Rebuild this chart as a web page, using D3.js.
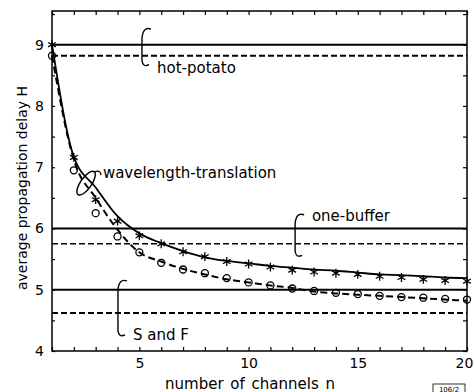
<!DOCTYPE html>
<html>
<head>
<meta charset="utf-8">
<script src="https://cdn.jsdelivr.net/npm/d3@7"></script>
<style>
  html, body { margin: 0; padding: 0; background: #fff; }
  svg { display: block; font-family: "DejaVu Sans", sans-serif; }
</style>
</head>
<body>
<svg id="chart" width="474" height="392"></svg>
<script>
// number of channels n
const channels = d3.range(1, 21);

// analytic curves
const solidCurve  = [9.00, 7.17, 6.67, 6.20, 5.92, 5.76, 5.63, 5.53, 5.47, 5.43,
                     5.39, 5.36, 5.33, 5.31, 5.28, 5.25, 5.24, 5.22, 5.20, 5.19];
const dashedCurve = [8.82, 7.12, 6.50, 5.98, 5.61, 5.46, 5.34, 5.25, 5.17, 5.12,
                     5.07, 5.03, 4.97, 4.94, 4.92, 4.90, 4.88, 4.86, 4.84, 4.82];

// simulation points
const starPoints   = [9.00, 7.16, 6.47, 6.12, 5.88, 5.75, 5.62, 5.54, 5.46, 5.42,
                      5.37, 5.32, 5.29, 5.27, 5.25, 5.22, 5.20, 5.17, 5.15, 5.14];
const circlePoints = [8.82, 6.95, 6.25, 5.87, 5.61, 5.44, 5.33, 5.27, 5.19, 5.12,
                      5.07, 5.02, 4.98, 4.95, 4.93, 4.90, 4.88, 4.87, 4.85, 4.84];

// constant levels: [solid, dashed]
const hotPotato = [9.00, 8.82];
const oneBuffer = [6.00, 5.75];
const sAndF     = [5.00, 4.62];

const xTickLabels = [5, 10, 15, 20];
const yTickLabels = [4, 5, 6, 7, 8, 9];

const plotLeft = 52, plotRight = 467, plotTop = 11, plotBottom = 351;

const svg = d3.select("#chart");

const x = d3.scaleLinear().domain([1, 20]).range([plotLeft, plotRight]);
const y = d3.scaleLinear().domain([4, 9.55]).range([plotBottom, plotTop]);

// frame
svg.append("rect")
  .attr("x", plotLeft).attr("y", plotTop)
  .attr("width", plotRight - plotLeft).attr("height", plotBottom - plotTop)
  .attr("fill", "none").attr("stroke", "#000").attr("stroke-width", 1.5);

const yMinor = d3.range(4, 9.51, 0.5);

const bottomAxis = svg.append("g")
  .attr("transform", `translate(0, ${plotBottom})`)
  .call(d3.axisBottom(x).tickValues(channels).tickSize(-4).tickPadding(7)
    .tickFormat((d) => xTickLabels.includes(d) ? d : ""));

const topAxis = svg.append("g")
  .attr("transform", `translate(0, ${plotTop})`)
  .call(d3.axisTop(x).tickValues(channels).tickSize(-4).tickFormat(""));

const leftAxis = svg.append("g")
  .attr("transform", `translate(${plotLeft}, 0)`)
  .call(d3.axisLeft(y).tickValues(yMinor).tickSize(-3).tickPadding(8)
    .tickFormat((d) => yTickLabels.includes(d) ? d : ""));

const rightAxis = svg.append("g")
  .attr("transform", `translate(${plotRight}, 0)`)
  .call(d3.axisRight(y).tickValues(yMinor).tickSize(-4).tickFormat(""));

[bottomAxis, topAxis, leftAxis, rightAxis].forEach((g) => {
  g.select(".domain").remove();
  g.selectAll("line").attr("stroke", "#000").attr("stroke-width", 1.2);
  g.selectAll("text").attr("font-size", "14px").attr("fill", "#000")
    .attr("font-family", "DejaVu Sans, sans-serif");
});

// last label sits on the window edge, nudge it in
bottomAxis.selectAll(".tick text")
  .filter((d) => d == 20)
  .attr("dx", -3);

// horizontal levels
[hotPotato, oneBuffer, sAndF].forEach((lvl, i) => {
  svg.append("line")
    .attr("x1", plotLeft).attr("x2", plotRight)
    .attr("y1", y(lvl[0])).attr("y2", y(lvl[0]))
    .attr("stroke", "#000").attr("stroke-width", 2);
  svg.append("line")
    .attr("x1", plotLeft).attr("x2", plotRight)
    .attr("y1", y(lvl[1])).attr("y2", y(lvl[1]))
    .attr("stroke", "#000").attr("stroke-width", i == 1 ? 1.5 : 2)
    .attr("stroke-dasharray", "6,3");
});

// curves
const line = d3.line()
  .x((d, i) => x(channels[i]))
  .y((d) => y(d))
  .curve(d3.curveMonotoneX);

svg.append("path")
  .attr("d", line(solidCurve))
  .attr("fill", "none").attr("stroke", "#000").attr("stroke-width", 1.8);

svg.append("path")
  .attr("d", line(dashedCurve))
  .attr("fill", "none").attr("stroke", "#000").attr("stroke-width", 2)
  .attr("stroke-dasharray", "7,4");

// markers
const star = d3.symbol().type(d3.symbolAsterisk || d3.symbolCross).size(55);

svg.append("g").selectAll("path")
  .data(starPoints)
  .enter()
  .append("path")
  .attr("transform", (d, i) => `translate(${x(channels[i])}, ${y(d)})`)
  .attr("d", star)
  .attr("fill", "none").attr("stroke", "#000").attr("stroke-width", 1.3);

svg.append("g").selectAll("circle")
  .data(circlePoints)
  .enter()
  .append("circle")
  .attr("cx", (d, i) => x(channels[i]))
  .attr("cy", (d) => y(d))
  .attr("r", 3.5)
  .attr("fill", "none").attr("stroke", "#000").attr("stroke-width", 1.3);

// annotation braces
function brace(n, v0, v1) {
  const bx = x(n), y0 = y(v0), y1 = y(v1);
  return `M${bx + 9},${y0 + 1} Q${bx + 1},${y0 - 2} ${bx},${y0 + 10}` +
         ` L${bx},${y1 - 6} Q${bx + 1},${y1 + 1} ${bx + 7},${y1 - 2}`;
}

const notes = svg.append("g")
  .attr("fill", "none").attr("stroke", "#000").attr("stroke-width", 1.4);

notes.append("path").attr("d", brace(5.12, 9.27, 8.64));
notes.append("path").attr("d", brace(12.13, 6.24, 5.53));
notes.append("path").attr("d", brace(4.02, 5.16, 4.23));

// wavelength-translation loop
const lx = x(2.56), ly = y(6.74);
notes.append("ellipse")
  .attr("cx", lx).attr("cy", ly)
  .attr("rx", 14).attr("ry", 5.5)
  .attr("transform", `rotate(-55, ${lx}, ${ly})`);
notes.append("path")
  .attr("d", `M${lx + 8},${ly - 11} Q${lx + 14},${ly - 14} ${lx + 15},${ly - 8}`);

const labels = svg.append("g")
  .attr("font-size", "15px").attr("fill", "#000");

labels.append("text").attr("x", x(5.81)).attr("y", y(8.54)).text("hot-potato");
labels.append("text").attr("x", x(12.9)).attr("y", y(6.12)).text("one-buffer");
labels.append("text").attr("x", x(4.71)).attr("y", y(4.18)).text("S and F");
labels.append("text").attr("x", x(3.33)).attr("y", y(6.82)).text("wavelength-translation");

// axis titles
svg.append("text")
  .attr("x", 250).attr("y", 389)
  .attr("text-anchor", "middle")
  .attr("font-size", "15px")
  .attr("word-spacing", "2px")
  .text("number of channels n");

svg.append("text")
  .attr("transform", "translate(27, 188) rotate(-90)")
  .attr("text-anchor", "middle")
  .attr("font-size", "14px")
  .text("average propagation delay H");

// figure code box
svg.append("rect")
  .attr("x", 433).attr("y", 384).attr("width", 32).attr("height", 11)
  .attr("fill", "none").attr("stroke", "#000").attr("stroke-width", 0.8);
svg.append("text")
  .attr("x", 449).attr("y", 391.5)
  .attr("text-anchor", "middle")
  .attr("font-size", "7px")
  .text("106/2");
</script>
</body>
</html>
